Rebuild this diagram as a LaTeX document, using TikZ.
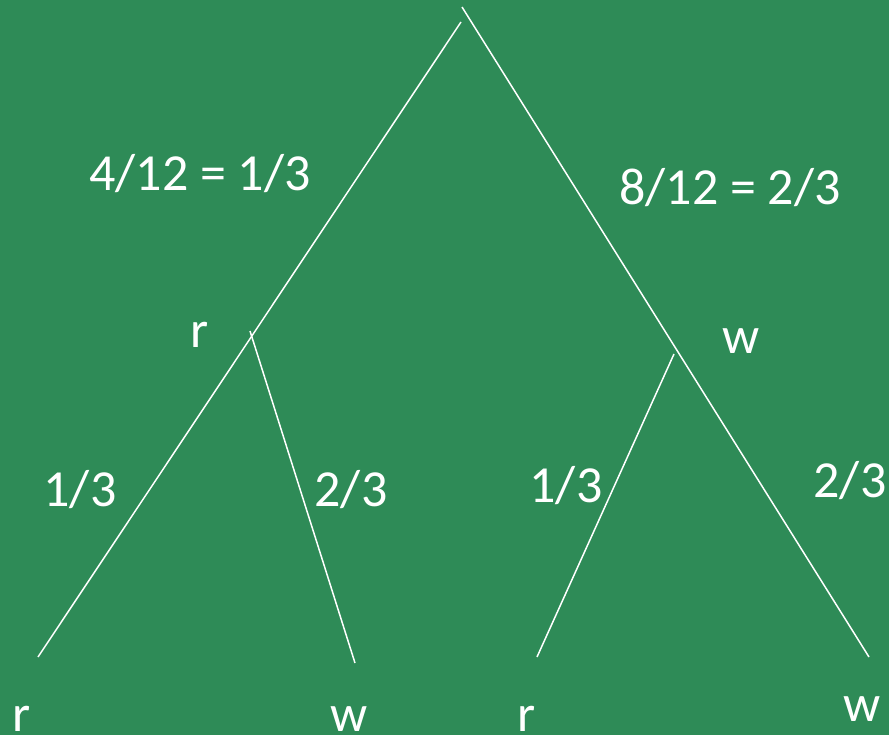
\documentclass[tikz,border=0pt]{standalone}
\usepackage{fontspec}
\setmainfont{Carlito}
\definecolor{treegreen}{RGB}{46,139,87}

\begin{document}
\begin{tikzpicture}[
      x=1pt, y=-1pt,
      branch/.style={draw=white, line width=1.5pt},
      prob/.style={text=white, font=\fontsize{52}{60}\selectfont, anchor=base, inner sep=0pt},
      leaf/.style={prob}
  ]
  \fill[treegreen] (0,0) rectangle (889,735);
  \useasboundingbox (0,0) rectangle (889,735);

  % branch end points
  \coordinate (rootl) at (461,22);
  \coordinate (rootr) at (462,7);
  \coordinate (rsplit) at (250,331);
  \coordinate (wsplit) at (674,354);
  \coordinate (rr) at (38,657);
  \coordinate (rw) at (355,663);
  \coordinate (wr) at (537,657);
  \coordinate (ww) at (869,657);

  \draw[branch] (rootl) -- (rr);
  \draw[branch] (rootr) -- (ww);
  \draw[branch] (rsplit) -- (rw);
  \draw[branch] (wsplit) -- (wr);

  % labels
  \node[prob] (pr)  at (200,191) {4/12 = 1/3};
  \node[prob] (pw)  at (730,205) {8/12 = 2/3};
  \node[leaf] (r1)  at (200,348) {r};
  \node[leaf] (w1)  at (741,353) {w};
  \node[prob] (prr) at (80,506)  {1/3};
  \node[prob] (prw) at (351,506) {2/3};
  \node[prob] (pwr) at (566,502) {1/3};
  \node[prob] (pww) at (850,497) {2/3};
  \node[leaf] (r2)  at (22,731)  {r};
  \node[leaf] (w2)  at (349,731) {w};
  \node[leaf] (r3)  at (527,731) {r};
  \node[leaf] (w3)  at (862,721) {w};
\end{tikzpicture}
\end{document}
